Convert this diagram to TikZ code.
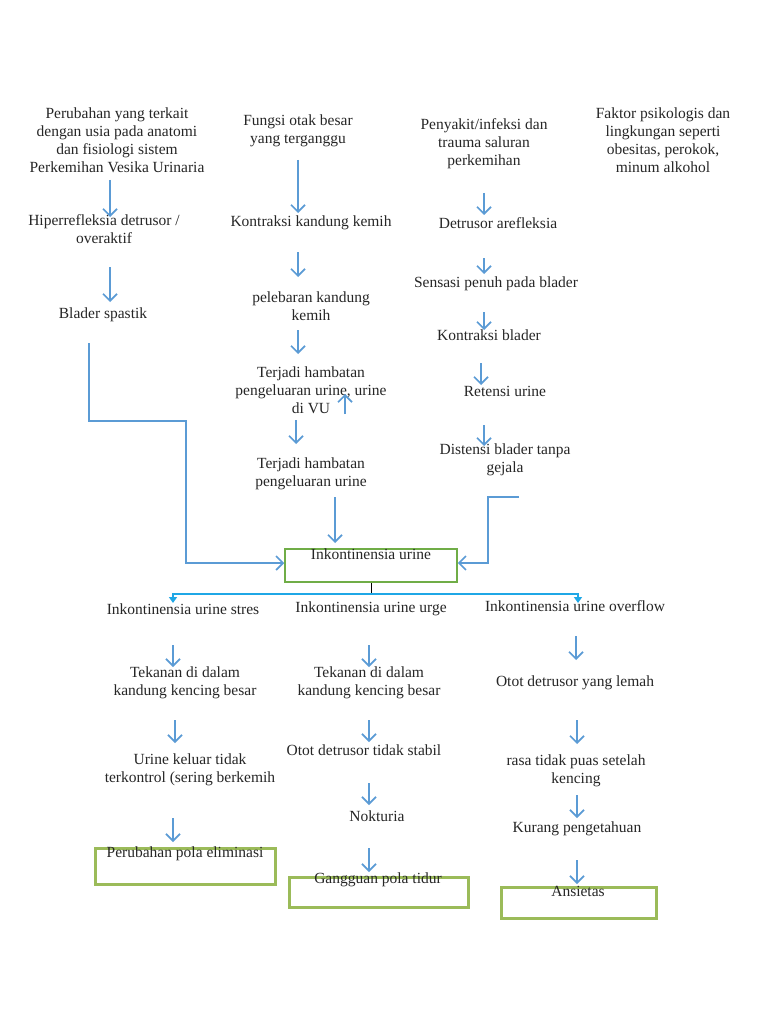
\documentclass[tikz,border=0pt]{standalone}
\usepackage{fontspec}
\setmainfont{Liberation Serif}
\usetikzlibrary{arrows.meta,calc}
\definecolor{arrblue}{HTML}{5B9BD5}
\definecolor{cyanline}{HTML}{1FA7E6}
\definecolor{boxgreen}{HTML}{70AD47}
\definecolor{boxolive}{HTML}{9BBB59}
\tikzset{
  txt/.style={inner sep=0pt, align=center, font=\fontsize{15.5}{18}\selectfont, text=black!85},
  arr/.style={draw=arrblue, line width=1.1pt, -{Straight Barb[length=7pt,width=14pt,line width=1.7pt]}},
  branch/.style={draw=cyanline, line width=1.5pt, -{Triangle[length=6pt,width=8pt]}},
  gbox/.style={draw=boxgreen, line width=1.5pt, inner sep=0pt},
  obox/.style={draw=boxolive, line width=3pt, inner sep=0pt}
}
\begin{document}
\begin{tikzpicture}[x=1pt,y=-1pt]
\useasboundingbox[fill=white] (0,0) rectangle (768,1024);
% top row
\node[txt] (n1) at (117,140) {Perubahan yang terkait\\dengan usia pada anatomi\\dan fisiologi sistem\\Perkemihan Vesika Urinaria};
\node[txt] (n2) at (298,131) {Fungsi otak besar\\yang terganggu};
\node[txt] (n3) at (484,144) {Penyakit/infeksi dan\\trauma saluran\\perkemihan};
\node[txt] (n4) at (663,140) {Faktor psikologis dan\\lingkungan seperti\\obesitas, perokok,\\minum alkohol};
% column 1
\node[txt] (n5) at (104,229) {Hiperrefleksia detrusor /\\overaktif};
\node[txt] (n8) at (103,315) {Blader spastik};
% column 2
\node[txt] (n6) at (311,223) {Kontraksi kandung kemih};
\node[txt] (n9) at (311,306) {pelebaran kandung\\kemih};
\node[txt] (n12) at (311,390) {Terjadi hambatan\\pengeluaran urine, urine\\di VU};
\node[txt] (n15) at (311,474) {Terjadi hambatan\\pengeluaran urine};
% column 3
\node[txt] (n7) at (498,223) {Detrusor arefleksia};
\node[txt] (n10) at (496,284) {Sensasi penuh pada blader};
\node[txt] (n11) at (489,335) {Kontraksi blader};
\node[txt] (n13) at (505,391) {Retensi urine};
\node[txt] (n14) at (505,460) {Distensi blader tanpa\\gejala};
% central box
\node[gbox, minimum width=172pt, minimum height=33pt] (b1) at (371,565.5) {};
\node[txt] (b1t) at (371,554) {Inkontinensia urine};
\coordinate (hub) at ($(b1.south)+(0,11)$);
% lower columns
\node[txt] (n17) at (183,609) {Inkontinensia urine stres};
\node[txt] (n18) at (371,609) {Inkontinensia urine urge};
\node[txt] (n19) at (575,606) {Inkontinensia urine overflow};
\node[txt] (n20) at (185,683) {Tekanan di dalam\\kandung kencing besar};
\node[txt] (n21) at (369,683) {Tekanan di dalam\\kandung kencing besar};
\node[txt] (n22) at (575,683) {Otot detrusor yang lemah};
\node[txt] (n23) at (190,770) {Urine keluar tidak\\terkontrol (sering berkemih};
\node[txt] (n24) at (364,750) {Otot detrusor tidak stabil};
\node[txt] (n25) at (576,771) {rasa tidak puas setelah\\kencing};
\node[txt] (n26) at (377,816) {Nokturia};
\node[txt] (n27) at (577,829) {Kurang pengetahuan};
% bottom boxes
\node[obox, minimum width=180pt, minimum height=36pt] (b2) at (185,866) {};
\node[txt] (b2t) at (185,854) {Perubahan pola eliminasi};
\node[obox, minimum width=179pt, minimum height=30pt] (b3) at (378.5,892) {};
\node[txt] (b3t) at (378,880) {Gangguan pola tidur};
\node[obox, minimum width=155pt, minimum height=31pt] (b4) at (578.5,902.5) {};
\node[txt] (b4t) at (578,891) {Ansietas};
% arrows column 1
\draw[arr] ($(n1)+(-7,40)$) -- ($(n5)+(6,-12)$);
\draw[arr] ($(n5)+(6,38)$) -- ($(n8)+(7,-13)$);
% column 2
\draw[arr] ($(n2)+(0,29)$) -- ($(n6)+(-13,-10)$);
\draw[arr] ($(n6)+(-13,29)$) -- ($(n9)+(-13,-29)$);
\draw[arr] ($(n9)+(-13,24)$) -- ($(n12)+(-13,-36)$);
\draw[arr] ($(n12)+(34,24)$) -- ($(n12)+(34,4)$);
\draw[arr] ($(n12)+(-15,30)$) -- ($(n15)+(-15,-30)$);
\draw[arr] ($(n15)+(24,23)$) -- ($(b1)+(-36,-22.5)$);
% column 3
\draw[arr] ($(n3)+(0,49)$) -- ($(n7)+(-14,-8)$);
\draw[arr] ($(n7)+(-14,35)$) -- ($(n10)+(-12,-10)$);
\draw[arr] ($(n10)+(-12,28)$) -- ($(n11)+(-5,-5)$);
\draw[arr] ($(n11)+(-8,28)$) -- ($(n13)+(-24,-6)$);
\draw[arr] ($(n13)+(-21,34)$) -- ($(n14)+(-21,-14)$);
% side connectors into box
\draw[arr] ($(n8)+(-14,28)$) -- ++(0,78) -- ++(97,0) |- ($(b1.west)+(0,-2.5)$);
\draw[arr] ($(n14)+(14,37)$) -- ++(-31,0) |- ($(b1.east)+(0,-2.5)$);
% branching
\draw[black, line width=0.8pt] (b1.south) -- (hub);
\draw[branch] (hub) -| ($(n17)+(-10,-6)$);
\draw[branch] (hub) -| ($(n19)+(3,-3)$);
% lower column 1
\draw[arr] ($(n17)+(-10,36)$) -- ($(n20)+(-12,-16)$);
\draw[arr] ($(n20)+(-10,37)$) -- ($(n23)+(-15,-27)$);
\draw[arr] ($(n23)+(-17,48)$) -- ($(b2t)+(-12,-12)$);
% lower column 2
\draw[arr] ($(n18)+(-2,36)$) -- ($(n21)+(0,-16)$);
\draw[arr] ($(n21)+(0,37)$) -- ($(n24)+(5,-8)$);
\draw[arr] ($(n24)+(5,33)$) -- ($(n26)+(-8,-11)$);
\draw[arr] ($(n26)+(-8,32)$) -- ($(b3t)+(-9,-8)$);
% lower column 3
\draw[arr] ($(n19)+(1,30)$) -- ($(n22)+(1,-23)$);
\draw[arr] ($(n22)+(2,37)$) -- ($(n25)+(1,-27)$);
\draw[arr] ($(n25)+(1,24)$) -- ($(n27)+(0,-11)$);
\draw[arr] ($(n27)+(0,31)$) -- ($(b4t)+(-1,-7)$);
\end{tikzpicture}
\end{document}
